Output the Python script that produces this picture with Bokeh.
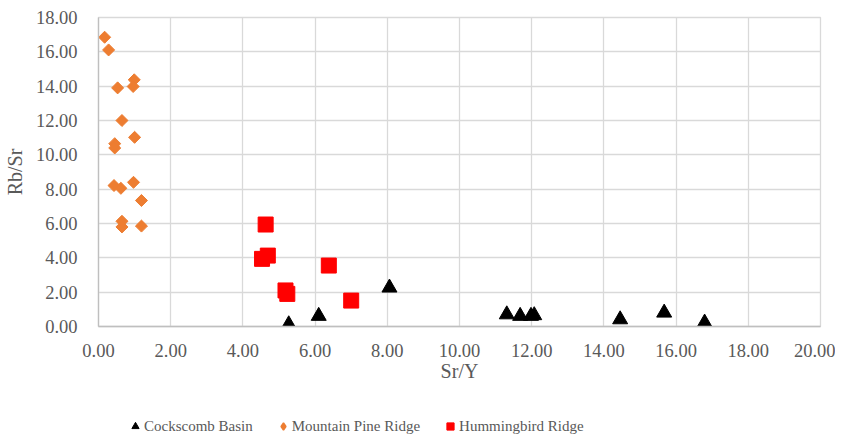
import numpy as np
from bokeh.plotting import figure
from bokeh.layouts import column
from bokeh.models import Range1d, FixedTicker, NumeralTickFormatter, Legend, LegendItem
from bokeh.embed import file_html
from bokeh.resources import INLINE

# Data
cb_x = [5.27, 6.10, 8.06, 11.31, 11.68, 11.98, 12.07, 14.45, 15.67, 16.79]
cb_y = [0.12, 0.61, 2.26, 0.70, 0.61, 0.61, 0.65, 0.41, 0.80, 0.22]

mpr_x = [0.17, 0.28, 0.53, 0.99, 0.96, 0.65, 1.00, 0.45, 0.45, 0.43, 0.62, 0.97, 1.19, 0.65, 0.65, 1.19]
mpr_y = [16.85, 16.11, 13.90, 14.37, 13.98, 12.00, 11.02, 10.65, 10.40, 8.21, 8.05, 8.40, 7.34, 6.13, 5.80, 5.85]

hr_x = [4.63, 4.53, 4.69, 5.18, 5.23, 6.38, 7.00]
hr_y = [5.94, 3.94, 4.13, 2.10, 1.90, 3.55, 1.51]

series_names = ["Cockscomb Basin", "Mountain Pine Ridge", "Hummingbird Ridge"]

x_ticks = [0, 2, 4, 6, 8, 10, 12, 14, 16, 18, 20]
y_ticks = [0, 2, 4, 6, 8, 10, 12, 14, 16, 18]

FONT = "Liberation Serif"
TXT = "#595959"
GRID = "#d9d9d9"
C_CB, C_MPR, C_HR = "#000000", "#ED7D31", "#FF0000"
MK = [dict(marker="triangle", size=15, fill_color=C_CB, line_color=C_CB),
      dict(marker="square", angle=np.pi / 4, size=8.5, fill_color=C_MPR, line_color=C_MPR),
      dict(marker="square", size=15, fill_color=C_HR, line_color=C_HR)]

p = figure(width=835, height=400, output_backend="svg", toolbar_location=None,
           x_range=Range1d(0, 20), y_range=Range1d(0, 18),
           min_border_left=97, min_border_right=15, min_border_top=17, min_border_bottom=74)

p.outline_line_color = GRID
p.outline_line_width = 1.3
for ax in (p.xaxis[0], p.yaxis[0]):
    ax.major_label_text_font = FONT
    ax.major_label_text_font_size = "18.5px"
    ax.major_label_text_color = TXT
    ax.axis_label_text_font = FONT
    ax.axis_label_text_font_size = "20px"
    ax.axis_label_text_color = TXT
    ax.axis_label_text_font_style = "normal"
    ax.major_tick_line_color = None
    ax.minor_tick_line_color = None
    ax.axis_line_color = "#bfbfbf"
    ax.axis_line_width = 1.3
    ax.formatter = NumeralTickFormatter(format="0.00")

p.xaxis[0].ticker = FixedTicker(ticks=x_ticks)
p.yaxis[0].ticker = FixedTicker(ticks=y_ticks)
p.xaxis[0].axis_label = "Sr/Y"
p.yaxis[0].axis_label = "Rb/Sr"
p.xaxis[0].major_label_standoff = 11
p.yaxis[0].major_label_standoff = 15
p.xaxis[0].axis_label_standoff = 0
p.yaxis[0].axis_label_standoff = 7

p.xgrid.ticker = FixedTicker(ticks=x_ticks)
p.ygrid.ticker = FixedTicker(ticks=y_ticks)
p.grid.grid_line_color = GRID
p.grid.grid_line_width = 1.3

p.scatter(cb_x, cb_y, **MK[0])
p.scatter(mpr_x, mpr_y, **MK[1])
p.scatter(hr_x, hr_y, **MK[2])

# Legend strip below the chart (its glyph renderers sit outside the strip's visible range)
q = figure(width=835, height=35, output_backend="svg", toolbar_location=None,
           x_range=Range1d(-200, -199), y_range=Range1d(-200, -199),
           x_axis_type=None, y_axis_type=None, min_border=0)
q.outline_line_color = None
q.grid.visible = False
l_cb = q.scatter(cb_x, cb_y, **MK[0])
l_mpr = q.scatter(mpr_x, mpr_y, marker="diamond", fill_color=C_MPR, line_color=C_MPR, line_width=1.5)
l_hr = q.scatter(hr_x, hr_y, **MK[2])

legend = Legend(items=[
    LegendItem(label=series_names[0], renderers=[l_cb]),
    LegendItem(label=series_names[1], renderers=[l_mpr]),
    LegendItem(label=series_names[2], renderers=[l_hr]),
], orientation="horizontal", location=(28, 0))
legend.label_text_font = FONT
legend.label_text_font_size = "15px"
legend.label_text_color = TXT
legend.glyph_width = 18
legend.glyph_height = 18
legend.label_standoff = 0
legend.spacing = 21
legend.padding = 0
legend.margin = 0
legend.border_line_color = None
legend.background_fill_alpha = 0
q.add_layout(legend, "center")

layout = column(p, q, spacing=0)
open("out.html", "w").write(file_html(layout, INLINE))
